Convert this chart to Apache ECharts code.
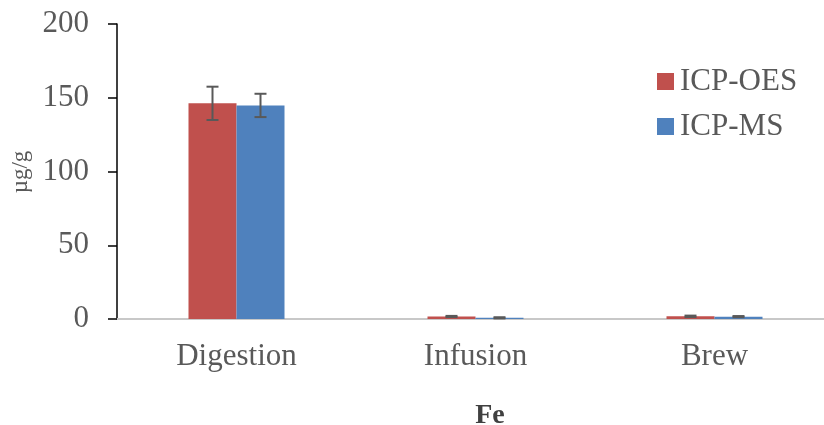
<!DOCTYPE html>
<html><head><meta charset="utf-8">
<script src="https://cdn.jsdelivr.net/npm/echarts@6/dist/echarts.min.js"></script>
<style>html,body{margin:0;padding:0;background:#fff;overflow:hidden}#c{width:834px;height:425px}</style>
</head><body><div id="c"></div>
<script>
const categories = ['Digestion', 'Infusion', 'Brew'];
const oesValues = [146.2, 1.7, 1.8];
const oesErrors = [11.3, 0.4, 0.5];
const msValues = [144.8, 0.8, 1.6];
const msErrors = [7.9, 0.4, 0.4];
const yTicks = [0, 50, 100, 150, 200];

const chart = echarts.init(document.getElementById('c'));
const serif = '"Liberation Serif", "Times New Roman", serif';
const barW = 48;

function errSeries(vals, errs, offset) {
  return {
    type: 'custom',
    z: 10,
    silent: true,
    data: vals.map((v, i) => [i, v - errs[i], v + errs[i]]),
    renderItem: function (params, api) {
      const lo = api.coord([api.value(0), api.value(1)]);
      const hi = api.coord([api.value(0), api.value(2)]);
      const x = lo[0] + offset;
      const cap = 6;
      const style = { stroke: '#595959', lineWidth: 2, fill: null };
      return {
        type: 'group',
        children: [
          { type: 'line', shape: { x1: x, y1: lo[1], x2: x, y2: hi[1] }, style: style },
          { type: 'line', shape: { x1: x - cap, y1: lo[1], x2: x + cap, y2: lo[1] }, style: style },
          { type: 'line', shape: { x1: x - cap, y1: hi[1], x2: x + cap, y2: hi[1] }, style: style }
        ]
      };
    }
  };
}

chart.setOption({
  animation: false,
  grid: { left: 117, right: 0, top: 24, bottom: 106 },
  legend: {
    data: ['ICP-OES', 'ICP-MS'],
    orient: 'vertical',
    left: 657, top: 66, padding: 0,
    icon: 'rect', itemWidth: 17, itemHeight: 17, itemGap: 14,
    textStyle: { fontFamily: serif, fontSize: 31, color: '#595959', lineHeight: 31, padding: [0, 0, 0, 1] }
  },
  title: {
    text: 'Fe', left: 485, top: 397, textAlign: 'center',
    textStyle: { fontFamily: serif, fontSize: 28, fontWeight: 'bold', color: '#404040' }
  },
  graphic: [{
    type: 'text', x: 21, y: 172, rotation: Math.PI / 2,
    style: { text: 'µg/g', fontFamily: serif, fontSize: 23, fill: '#595959', textAlign: 'center', textVerticalAlign: 'middle' }
  }],
  xAxis: {
    type: 'category', data: categories,
    axisLine: { lineStyle: { color: '#C8C8C8', width: 2 } },
    axisTick: { show: false },
    axisLabel: { fontFamily: serif, fontSize: 31, color: '#595959', margin: 22 },
    splitLine: { show: false }
  },
  yAxis: {
    type: 'value', min: 0, max: 200, interval: 50,
    axisLine: { show: true, lineStyle: { color: '#000', width: 1.5 } },
    axisTick: { show: true, length: 9, lineStyle: { color: '#000', width: 1.5 } },
    axisLabel: { fontFamily: serif, fontSize: 31, color: '#595959', margin: 28,
      formatter: v => yTicks.includes(v) ? String(v) : '' },
    splitLine: { show: false }
  },
  series: [
    { name: 'ICP-OES', type: 'bar', data: oesValues, barWidth: barW, barGap: '0%', itemStyle: { color: '#C0504D' } },
    { name: 'ICP-MS', type: 'bar', data: msValues, barWidth: barW, barGap: '0%', itemStyle: { color: '#4F81BD' } },
    errSeries(oesValues, oesErrors, -barW / 2),
    errSeries(msValues, msErrors, barW / 2)
  ]
});
</script></body></html>
